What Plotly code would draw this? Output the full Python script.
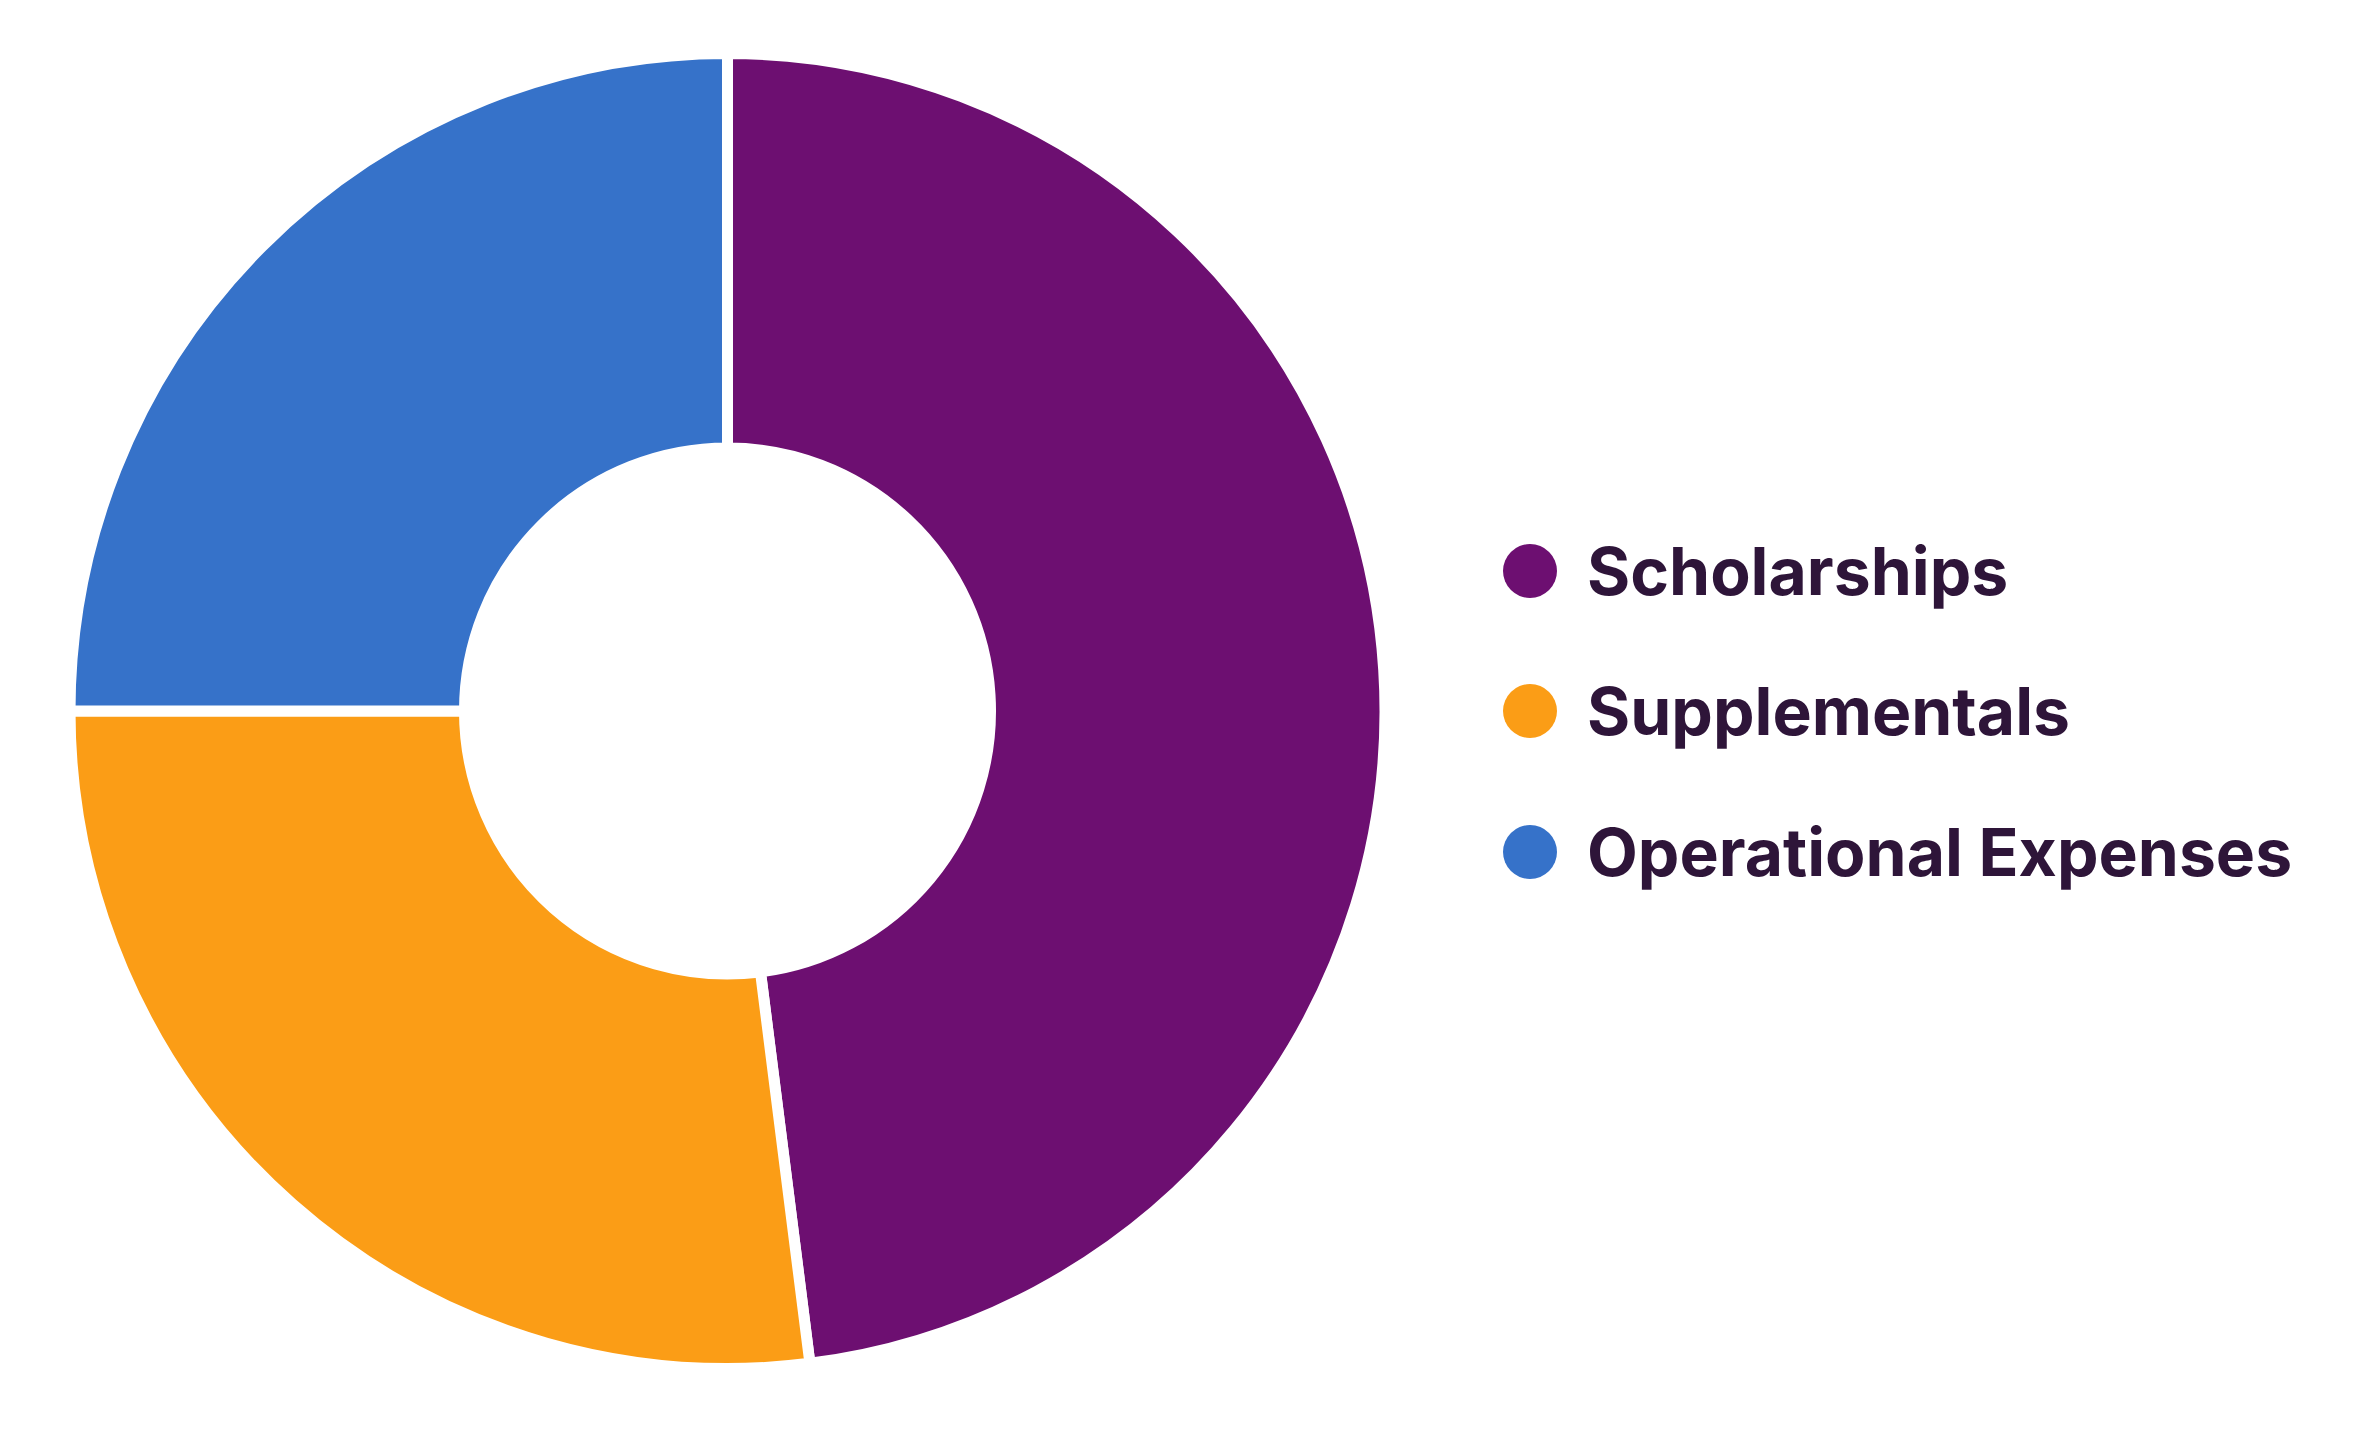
import plotly.graph_objects as go

labels = ["Scholarships", "Supplementals", "Operational Expenses"]
values = [48, 27, 25]
colors = ["#6d0f71", "#fb9d16", "#3672c9"]
text_color = "#2e1539"

W, H = 2362, 1434
off = 8  # browser body margin
cx, cy, R = 727.5 - off, 711 - off, 657.5

fig = go.Figure()
fig.add_trace(go.Pie(
    labels=labels, values=values, hole=0.4, sort=False, direction="clockwise",
    rotation=0, textinfo="none", hoverinfo="label+percent",
    marker=dict(colors=colors, line=dict(color="white", width=11)),
    domain=dict(x=[(cx - R) / W, (cx + R) / W], y=[(H - cy - R) / H, (H - cy + R) / H]),
    showlegend=False,
))

# custom legend
row_y = [571 - off, 711 - off, 852 - off]
marker_x = 1530 - off
text_x = 1585 - off
msize = 54
shapes, annotations = [], []
for lab, col, yy in zip(labels, colors, row_y):
    shapes.append(dict(type="circle", xref="paper", yref="paper",
                       x0=(marker_x - msize / 2) / W, x1=(marker_x + msize / 2) / W,
                       y0=(H - yy - msize / 2) / H, y1=(H - yy + msize / 2) / H,
                       fillcolor=col, line=dict(width=0)))
    annotations.append(dict(text=f"<b>{lab}</b>", xref="paper", yref="paper",
                            x=text_x / W, y=(H - yy) / H, xanchor="left", yanchor="middle",
                            showarrow=False,
                            font=dict(family="Inter", size=66, color=text_color)))

fig.update_layout(
    width=W, height=H, margin=dict(l=0, r=0, t=0, b=0),
    paper_bgcolor="white", plot_bgcolor="white",
    shapes=shapes, annotations=annotations,
)
fig.write_html("out.html")
